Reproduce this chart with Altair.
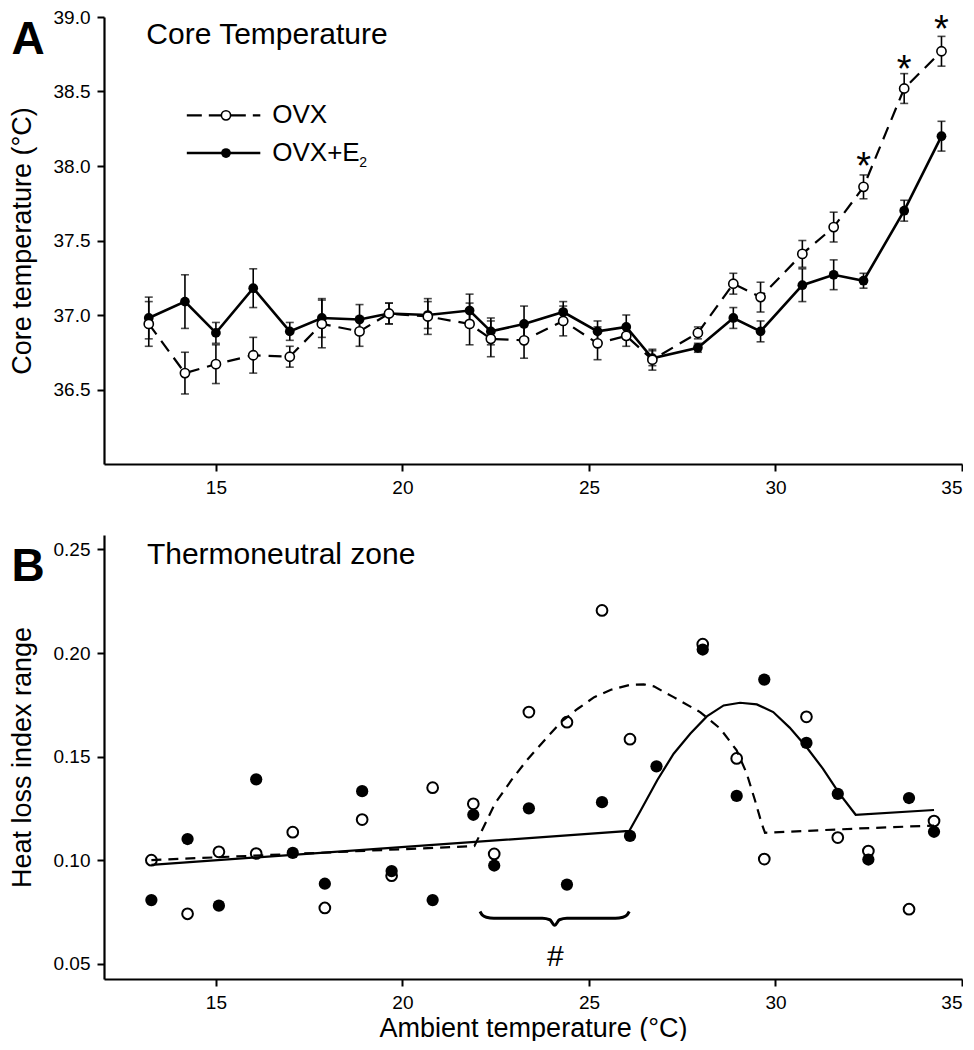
import altair as alt
import pandas as pd

FONT = "Liberation Sans"
INK = "black"

# ---------------- Panel A: core temperature ----------------
A_TEMP = [13.2, 14.17, 15.0, 16.0, 16.98, 17.84, 18.85, 19.64, 20.68, 21.8, 22.37, 23.26,
          24.31, 25.23, 26.0, 26.7, 27.92, 28.87, 29.6, 30.72, 31.56, 32.36, 33.45, 34.45]
OVX_CORE = [36.94, 36.61, 36.67, 36.73, 36.72, 36.94, 36.89, 37.01, 36.99, 36.94, 36.84, 36.83,
            36.96, 36.81, 36.86, 36.70, 36.88, 37.21, 37.12, 37.41, 37.59, 37.86, 38.52, 38.77]
OVX_SEM = [0.15, 0.14, 0.13, 0.12, 0.07, 0.16, 0.10, 0.07, 0.12, 0.14, 0.12, 0.12,
           0.10, 0.11, 0.07, 0.07, 0.04, 0.07, 0.10, 0.09, 0.10, 0.08, 0.10, 0.10]
E2_CORE = [36.98, 37.09, 36.88, 37.18, 36.89, 36.98, 36.97, 37.01, 37.00, 37.03, 36.89, 36.94,
           37.02, 36.89, 36.92, 36.71, 36.78, 36.98, 36.89, 37.20, 37.27, 37.23, 37.70, 38.20]
E2_SEM = [0.14, 0.18, 0.07, 0.13, 0.06, 0.13, 0.10, 0.07, 0.09, 0.11, 0.09, 0.12,
          0.07, 0.07, 0.08, 0.05, 0.03, 0.07, 0.07, 0.11, 0.10, 0.05, 0.07, 0.10]
STAR_TEMP = [32.36, 33.45, 34.45]
STAR_CORE = [38.06, 38.71, 38.98]

# ---------------- Panel B: heat loss index ----------------
B_OVX_TEMP = [13.27, 14.24, 15.08, 16.08, 17.06, 17.92, 18.92, 19.71, 20.81, 21.90, 22.46, 23.39,
              24.41, 25.35, 26.10, 28.05, 28.96, 29.70, 30.83, 31.67, 32.49, 33.58, 34.25]
B_OVX_HLI = [0.100, 0.0741, 0.104, 0.1032, 0.1135, 0.0769, 0.1196, 0.0925, 0.135, 0.1272, 0.103, 0.1715,
             0.1666, 0.2206, 0.1584, 0.2043, 0.1491, 0.1005, 0.1692, 0.1109, 0.1044, 0.0763, 0.1189]
B_E2_TEMP = [13.27, 14.24, 15.08, 16.08, 17.06, 17.92, 18.92, 19.71, 20.81, 21.90, 22.46, 23.39,
             24.41, 25.35, 26.10, 26.81, 28.05, 28.96, 29.70, 30.83, 31.67, 32.49, 33.58, 34.25]
B_E2_HLI = [0.0807, 0.1102, 0.078, 0.139, 0.1035, 0.0886, 0.1333, 0.0947, 0.0807, 0.1219, 0.0974, 0.125,
            0.0882, 0.128, 0.1117, 0.1453, 0.2017, 0.131, 0.1872, 0.1566, 0.132, 0.1003, 0.130, 0.1137]

FIT_OVX_TEMP = [13.27, 21.93, 22.48, 22.92, 23.37, 23.81, 24.25, 24.70, 25.14, 25.59, 26.12, 26.47,
                26.74, 27.27, 27.98, 28.52, 28.96, 29.23, 29.45, 29.63, 29.72, 32.25, 34.25]
FIT_OVX_HLI = [0.100, 0.1068, 0.1273, 0.1386, 0.149, 0.1579, 0.1667, 0.1731, 0.1787, 0.1823, 0.1847, 0.1849,
               0.1839, 0.1787, 0.1715, 0.1635, 0.153, 0.1418, 0.1289, 0.1177, 0.1132, 0.1153, 0.1167]
FIT_E2_TEMP = [13.27, 26.08, 26.39, 26.83, 27.27, 27.72, 28.16, 28.61, 29.05, 29.50, 29.94, 30.38,
               30.83, 31.27, 31.71, 32.15, 34.25]
FIT_E2_HLI = [0.0977, 0.1141, 0.1241, 0.1386, 0.1514, 0.1611, 0.1694, 0.1747, 0.176, 0.1752, 0.1715, 0.164,
              0.1546, 0.1442, 0.1322, 0.1219, 0.1242]

BRACE_TEMP = [22.08, 22.14, 22.25, 22.45, 23.75, 23.95, 24.08, 24.21, 24.41, 25.71, 25.91, 26.02, 26.08]
BRACE_HLI = [0.0752, 0.0735, 0.0724, 0.0719, 0.0719, 0.0712, 0.0685, 0.0712, 0.0719, 0.0719, 0.0724,
             0.0735, 0.0752]
HASH_TEMP = [24.10]
HASH_HLI = [0.0532]

X_TICKS = [15, 20, 25, 30, 35]
A_TICKS = [36.5, 37.0, 37.5, 38.0, 38.5, 39.0]
B_TICKS = [0.05, 0.10, 0.15, 0.20, 0.25]

# legend / annotation anchors (data units of panel A)
LEG_X1, LEG_X2, LEG_MX, LEG_TX = 14.22, 16.19, 15.27, 16.51
LEG_Y = [38.34, 38.087]
PANEL_LETTER_X = 9.52

PLOT_W = 858
A_H = 447
B_H = 444

x_scale = alt.Scale(domain=[12, 35], nice=False, zero=False)
a_scale = alt.Scale(domain=[36.0, 39.0], nice=False, zero=False)
b_scale = alt.Scale(domain=[0.0426, 0.257], nice=False, zero=False)

AX = dict(domainColor=INK, domainWidth=2.2, tickColor=INK, tickWidth=2, tickSize=7,
          labelFont=FONT, labelFontSize=19, labelColor=INK, titleFont=FONT, titleFontSize=27,
          titleColor=INK, titleFontWeight="normal", grid=False, labelPadding=7)


def XA(f):
    return alt.X(f"{f}:Q", scale=x_scale, title=None, axis=alt.Axis(values=X_TICKS, **AX))


def XB(f):
    return alt.X(f"{f}:Q", scale=x_scale, title="Ambient temperature (°C)",
                 axis=alt.Axis(values=X_TICKS, titlePadding=3, **AX))


def YA(f):
    return alt.Y(f"{f}:Q", scale=a_scale, title="Core temperature (°C)",
                 axis=alt.Axis(values=A_TICKS, format=".1f", titlePadding=17, **AX))


def YB(f):
    return alt.Y(f"{f}:Q", scale=b_scale, title="Heat loss index range",
                 axis=alt.Axis(values=B_TICKS, format=".2f", titlePadding=17, **AX))


def frame(ts, vs, es=None):
    d = pd.DataFrame({"t": ts, "v": vs})
    if es is not None:
        d["lo"] = [v - e for v, e in zip(vs, es)]
        d["hi"] = [v + e for v, e in zip(vs, es)]
    return d


dO = frame(A_TEMP, OVX_CORE, OVX_SEM)
dE = frame(A_TEMP, E2_CORE, E2_SEM)
dAll = pd.concat([dO, dE], ignore_index=True)

lineO = alt.Chart(dO).mark_line(color=INK, strokeWidth=2.2, strokeDash=[13, 8]).encode(x=XA("t"), y=YA("v"))
lineE = alt.Chart(dE).mark_line(color=INK, strokeWidth=2.6).encode(x=XA("t"), y=YA("v"))
errs = alt.Chart(dAll).mark_rule(color=INK, strokeWidth=1.6).encode(x=XA("t"), y=YA("lo"), y2=alt.Y2("hi"))
capLo = alt.Chart(dAll).mark_tick(color=INK, orient="horizontal", size=8, thickness=1.6).encode(x=XA("t"), y=YA("lo"))
capHi = alt.Chart(dAll).mark_tick(color=INK, orient="horizontal", size=8, thickness=1.6).encode(x=XA("t"), y=YA("hi"))
ptsE = alt.Chart(dE).mark_point(shape="circle", filled=True, color=INK, size=95, opacity=1).encode(x=XA("t"), y=YA("v"))
ptsO = alt.Chart(dO).mark_point(shape="circle", filled=True, fill="white", stroke=INK, strokeWidth=1.6,
                                size=85, opacity=1).encode(x=XA("t"), y=YA("v"))
stars = alt.Chart(pd.DataFrame({"t": STAR_TEMP, "v": STAR_CORE, "s": ["*"] * 3})).mark_text(
    font=FONT, fontSize=38, color=INK, baseline="middle", align="center", dy=11
).encode(x=XA("t"), y=YA("v"), text="s:N")

# legend built from marks
legRuleO = alt.Chart(pd.DataFrame({"t": [LEG_X1], "t2": [LEG_X2], "v": [LEG_Y[0]]})).mark_rule(
    color=INK, strokeWidth=2.2, strokeDash=[15, 7]).encode(x=XA("t"), x2=alt.X2("t2"), y=YA("v"))
legRuleE = alt.Chart(pd.DataFrame({"t": [LEG_X1], "t2": [LEG_X2], "v": [LEG_Y[1]]})).mark_rule(
    color=INK, strokeWidth=2.6).encode(x=XA("t"), x2=alt.X2("t2"), y=YA("v"))
legPtO = alt.Chart(pd.DataFrame({"t": [LEG_MX], "v": [LEG_Y[0]]})).mark_point(
    shape="circle", filled=True, fill="white", stroke=INK, strokeWidth=1.6, size=85, opacity=1
).encode(x=XA("t"), y=YA("v"))
legPtE = alt.Chart(pd.DataFrame({"t": [LEG_MX], "v": [LEG_Y[1]]})).mark_point(
    shape="circle", filled=True, color=INK, size=95, opacity=1).encode(x=XA("t"), y=YA("v"))
legText = alt.Chart(pd.DataFrame({"t": [LEG_TX, LEG_TX], "v": LEG_Y, "s": ["OVX", "OVX+E"]})).mark_text(
    font=FONT, fontSize=26, color=INK, align="left", baseline="middle").encode(x=XA("t"), y=YA("v"), text="s:N")
legSub = alt.Chart(pd.DataFrame({"t": [LEG_TX], "v": [LEG_Y[1]], "s": ["2"]})).mark_text(
    font=FONT, fontSize=14, color=INK, align="left", baseline="middle", dx=87, dy=10
).encode(x=XA("t"), y=YA("v"), text="s:N")

titleA = alt.Chart(pd.DataFrame({"t": [13.135], "v": [38.817], "s": ["Core Temperature"]})).mark_text(
    font=FONT, fontSize=30, color=INK, align="left", baseline="alphabetic").encode(x=XA("t"), y=YA("v"), text="s:N")
letterA = alt.Chart(pd.DataFrame({"t": [PANEL_LETTER_X], "v": [38.75], "s": ["A"]})).mark_text(
    font=FONT, fontSize=46, fontWeight="bold", color=INK, align="left", baseline="alphabetic"
).encode(x=XA("t"), y=YA("v"), text="s:N")

panelA = alt.layer(lineO, lineE, errs, capLo, capHi, ptsE, ptsO, stars,
                   legRuleO, legRuleE, legPtO, legPtE, legText, legSub, titleA, letterA
                   ).properties(width=PLOT_W, height=A_H)

# ---------------- Panel B ----------------
bO = frame(B_OVX_TEMP, B_OVX_HLI)
bE = frame(B_E2_TEMP, B_E2_HLI)
fO = frame(FIT_OVX_TEMP, FIT_OVX_HLI)
fE = frame(FIT_E2_TEMP, FIT_E2_HLI)
br = frame(BRACE_TEMP, BRACE_HLI)

bPtsO = alt.Chart(bO).mark_point(shape="circle", filled=True, fill="white", stroke=INK, strokeWidth=2,
                                 size=115, opacity=1).encode(x=XB("t"), y=YB("v"))
bFitO = alt.Chart(fO).mark_line(color=INK, strokeWidth=2.2, strokeDash=[10, 7]).encode(x=XB("t"), y=YB("v"))
bFitE = alt.Chart(fE).mark_line(color=INK, strokeWidth=2.2).encode(x=XB("t"), y=YB("v"))
bPtsE = alt.Chart(bE).mark_point(shape="circle", filled=True, color=INK, size=150, opacity=1).encode(x=XB("t"), y=YB("v"))
brace = alt.Chart(br).mark_line(color=INK, strokeWidth=3, interpolate="monotone").encode(x=XB("t"), y=YB("v"))
hashT = alt.Chart(pd.DataFrame({"t": HASH_TEMP, "v": HASH_HLI, "s": ["#"]})).mark_text(
    font=FONT, fontSize=30, color=INK, align="center", baseline="middle").encode(x=XB("t"), y=YB("v"), text="s:N")
titleB = alt.Chart(pd.DataFrame({"t": [13.15], "v": [0.2432], "s": ["Thermoneutral zone"]})).mark_text(
    font=FONT, fontSize=30, color=INK, align="left", baseline="alphabetic").encode(x=XB("t"), y=YB("v"), text="s:N")
letterB = alt.Chart(pd.DataFrame({"t": [PANEL_LETTER_X], "v": [0.235], "s": ["B"]})).mark_text(
    font=FONT, fontSize=46, fontWeight="bold", color=INK, align="left", baseline="alphabetic"
).encode(x=XB("t"), y=YB("v"), text="s:N")

panelB = alt.layer(bPtsO, bFitO, bFitE, bPtsE, brace, hashT, titleB, letterB
                   ).properties(width=PLOT_W, height=B_H)

chart = alt.vconcat(panelA, panelB, spacing=38).properties(padding=0).configure_view(stroke=None)

chart.save("out.html", embed_options={"renderer": "svg", "actions": False})
